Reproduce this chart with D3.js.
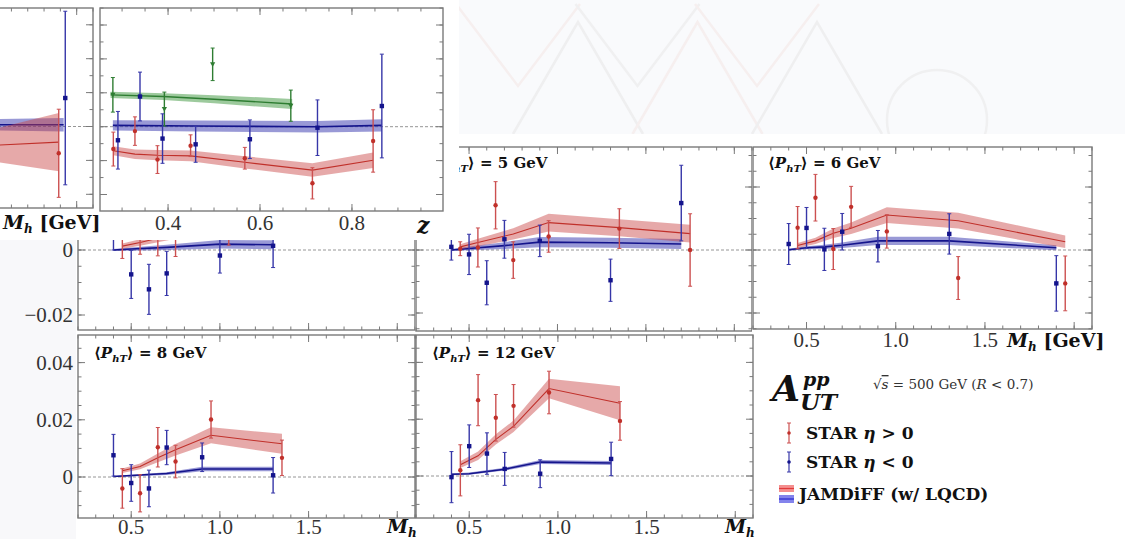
<!DOCTYPE html>
<html><head><meta charset="utf-8">
<script src="https://cdn.jsdelivr.net/npm/d3@7"></script>
<style>body{margin:0;background:#fff;} svg{display:block}</style>
</head><body><svg id="c" width="1125" height="539"></svg>
<script>
// ---------------- DATA ----------------
// Top-left partial M_h panel (A)
const pA_blueX=[1.93], pA_blueY=[0.0084], pA_blueErr=[0.0256];
const pA_redX=[1.89], pA_redY=[-0.0079], pA_redErr=[0.0130];
const pA_redThX=[1.3,1.89], pA_redThY=[-0.0060,-0.0046], pA_redThErr=[0.0030,0.0086];
const pA_blueThX=[1.3,1.92], pA_blueThY=[0.0005,0.0005], pA_blueThErr=[0.0015,0.0020];
// z-dependence panel (B)
const zGreen=[0.280,0.392,0.497,0.667], greenY=[0.0094,0.0052,0.0184,0.0062], greenErr=[0.0051,0.0050,0.0048,0.0046];
const zGreenTh=[0.275,0.39,0.50,0.67], greenThY=[0.0094,0.0089,0.0081,0.0067], greenThErr=[0.0009,0.0010,0.0012,0.0015];
const zBlue=[0.291,0.339,0.388,0.460,0.578,0.725,0.865], zBlueY=[-0.0040,0.0089,-0.0035,-0.0052,-0.0037,-0.0003,0.0061], zBlueErr=[0.0085,0.0072,0.0073,0.0053,0.0057,0.0082,0.0153];
const zBlueTh=[0.28,0.46,0.725,0.865], zBlueThY=[0.0004,0.0002,0.0000,0.0004], zBlueThErr=[0.0015,0.0016,0.0017,0.0018];
const zRed=[0.281,0.328,0.377,0.449,0.567,0.714,0.846], zRedY=[-0.0066,-0.0013,-0.0097,-0.0056,-0.0093,-0.0167,-0.0042], zRedErr=[0.0050,0.0042,0.0041,0.0032,0.0032,0.0046,0.0092];
const zRedTh=[0.281,0.328,0.377,0.449,0.567,0.714,0.846], zRedThY=[-0.0071,-0.0081,-0.0084,-0.0086,-0.0105,-0.0128,-0.0099], zRedThErr=[0.0013,0.0014,0.0015,0.0016,0.0018,0.0020,0.0023];
// lowest <PhT> panel (title hidden)
const p4_blueX=[0.4,0.5,0.6,0.7,1.0,1.3], p4_blueY=[0.0060,-0.0075,-0.0121,-0.0072,-0.0017,0.0013], p4_blueErr=[0.0060,0.0074,0.0077,0.0068,0.0054,0.0067];
const p4_redX=[0.45,0.55,0.65,0.75,1.05,1.35], p4_redY=[0.0040,0.0060,0.0050,0.0040,0.0070,0.0120], p4_redErr=[0.0066,0.0073,0.0068,0.0060,0.0055,0.0060];
const p4_redThX=[0.45,0.55,0.65,0.75,1.05,1.35], p4_redThY=[0.0012,0.0023,0.0036,0.0050,0.0090,0.0080], p4_redThErr=[0.0008,0.0010,0.0012,0.0015,0.0025,0.0030];
const p4_blueThX=[0.4,0.5,0.7,1.0,1.3], p4_blueThY=[0.0000,0.0003,0.0008,0.0018,0.0016], p4_blueThErr=[0.0003,0.0005,0.0008,0.0013,0.0014];
// <PhT> = 5 GeV
const p5_blueX=[0.4,0.5,0.6,0.7,0.9,1.3,1.7], p5_blueY=[0.0010,-0.0014,-0.0104,0.0034,0.0029,-0.0096,0.0149], p5_blueErr=[0.0042,0.0064,0.0070,0.0060,0.0050,0.0067,0.0120];
const p5_redX=[0.45,0.55,0.65,0.75,0.95,1.35,1.75], p5_redY=[0.0004,0.0008,0.0142,-0.0032,0.0043,0.0068,0.0000], p5_redErr=[0.0022,0.0062,0.0075,0.0058,0.0050,0.0063,0.0115];
const p5_redThX=[0.45,0.55,0.75,0.95,1.35,1.75], p5_redThY=[0.0010,0.0024,0.0051,0.0087,0.0071,0.0052], p5_redThErr=[0.0008,0.0012,0.0018,0.0028,0.0027,0.0028];
const p5_blueThX=[0.4,0.5,0.7,0.9,1.3,1.7], p5_blueThY=[0.0000,0.0005,0.0014,0.0025,0.0023,0.0019], p5_blueThErr=[0.0003,0.0006,0.0011,0.0016,0.0016,0.0016];
// <PhT> = 6 GeV
const p6_blueX=[0.4,0.5,0.6,0.7,0.9,1.3,1.9], p6_blueY=[0.0019,0.0070,0.0002,0.0058,0.0012,0.0051,-0.0106], p6_blueErr=[0.0065,0.0065,0.0067,0.0058,0.0050,0.0064,0.0088];
const p6_redX=[0.45,0.55,0.65,0.75,0.95,1.35,1.95], p6_redY=[0.0071,0.0166,0.0003,0.0137,0.0059,-0.0089,-0.0106], p6_redErr=[0.0067,0.0074,0.0065,0.0065,0.0053,0.0068,0.0087];
const p6_redThX=[0.45,0.55,0.65,0.75,0.95,1.35,1.95], p6_redThY=[0.0014,0.0029,0.0053,0.0069,0.0111,0.0093,0.0026], p6_redThErr=[0.0008,0.0010,0.0015,0.0018,0.0025,0.0025,0.0020];
const p6_blueThX=[0.4,0.5,0.6,0.7,0.9,1.3,1.9], p6_blueThY=[0.0001,0.0007,0.0010,0.0015,0.0029,0.0029,0.0007], p6_blueThErr=[0.0003,0.0005,0.0007,0.0009,0.0013,0.0013,0.0008];
// <PhT> = 8 GeV
const p8_blueX=[0.4,0.5,0.6,0.7,0.9,1.3], p8_blueY=[0.0076,-0.0021,-0.0040,0.0103,0.0069,0.0006], p8_blueErr=[0.0073,0.0064,0.0064,0.0060,0.0050,0.0062];
const p8_redX=[0.45,0.55,0.65,0.75,0.95,1.35], p8_redY=[-0.0040,-0.0057,0.0104,0.0054,0.0201,0.0067], p8_redErr=[0.0069,0.0065,0.0069,0.0057,0.0065,0.0062];
const p8_redThX=[0.45,0.55,0.65,0.75,0.95,1.35], p8_redThY=[0.0022,0.0037,0.0067,0.0095,0.0146,0.0116], p8_redThErr=[0.0008,0.0010,0.0015,0.0020,0.0028,0.0035];
const p8_blueThX=[0.4,0.5,0.7,0.9,1.3], p8_blueThY=[0.0002,0.0005,0.0012,0.0028,0.0028], p8_blueThErr=[0.0002,0.0003,0.0005,0.0008,0.0008];
// <PhT> = 12 GeV
const p12_blueX=[0.4,0.5,0.6,0.7,0.9,1.3], p12_blueY=[-0.0004,0.0105,0.0079,0.0025,0.0008,0.0060], p12_blueErr=[0.0090,0.0075,0.0073,0.0058,0.0049,0.0059];
const p12_redX=[0.45,0.55,0.65,0.75,0.95,1.35], p12_redY=[0.0020,0.0267,0.0205,0.0247,0.0294,0.0194], p12_redErr=[0.0090,0.0090,0.0082,0.0075,0.0075,0.0068];
const p12_redThX=[0.45,0.55,0.65,0.75,0.95,1.35], p12_redThY=[0.0040,0.0071,0.0129,0.0175,0.0308,0.0256], p12_redThErr=[0.0012,0.0015,0.0018,0.0020,0.0034,0.0060];
const p12_blueThX=[0.4,0.5,0.7,0.9,1.3], p12_blueThY=[0.0006,0.0008,0.0024,0.0049,0.0046], p12_blueThErr=[0.0003,0.0004,0.0005,0.0007,0.0007];

const mhTickLabels=["0.5","1.0","1.5"];
const zTickLabels=["0.4","0.6","0.8"];
const ptLabels=["5","6","8","12"];

// ---------------- DRAW ----------------
const FONT="'Liberation Serif','DejaVu Serif',serif";
const BFONT="'DejaVu Serif','Liberation Serif',serif";
const svg=d3.select('#c');
const RED="#c0302a", REDBAR="#cc5050", REDFILL="#c84040";
const BLUE="#14148c", BLUEBAR="#3636a8", BLUEFILL="#4646b4";
const GREEN="#2e7d32", GREENFILL="#3c963c";
const FRAME="#7a7a7a";

// backgrounds
svg.append('rect').attr('width',1125).attr('height',539).attr('fill','#fff');
svg.append('rect').attr('x',459).attr('y',0).attr('width',666).attr('height',134).attr('fill','#f9fafc');
svg.append('rect').attr('x',0).attr('y',238).attr('width',76).attr('height',301).attr('fill','#f8f8fa');
// decorative zigzags (slide background)
const deco=svg.append('g').attr('fill','none').attr('stroke-width',2.5);
for(let i=0;i<3;i++){
  const cx=518+i*119.5;
  deco.append('path').attr('d',`M${cx-62},4 L${cx},86 L${cx+62},4`).attr('stroke',i%2?'#f0f0f1':'#f6efef');
  deco.append('path').attr('d',`M${cx-5},134 L${cx+60},22 L${cx+125},134`).attr('stroke',i%2?'#f6efef':'#efeff0');
}
deco.append('circle').attr('cx',937).attr('cy',120).attr('r',50).attr('stroke','#f0f0f1');

let clipId=0;
function ser(xs,ys,es){return xs.map((v,i)=>({x:v,y:ys[i],e:es[i]}));}

function panel(c){
  const g=svg.append('g');
  if(c.bg) g.append('rect').attr('x',c.bg[0]).attr('y',c.bg[1]).attr('width',c.bg[2]).attr('height',c.bg[3]).attr('fill','#fff');
  const x=d3.scaleLinear().domain(c.xd).range([c.x0,c.x1]);
  const y=d3.scaleLinear().domain([(c.zero-c.y1)/c.ppu*0.01,(c.zero-c.y0)/c.ppu*0.01]).range([c.y1,c.y0]);
  const id='cl'+(clipId++);
  g.append('clipPath').attr('id',id).append('rect').attr('x',c.x0).attr('y',c.y0).attr('width',c.x1-c.x0).attr('height',c.y1-c.y0);
  const d=g.append('g').attr('clip-path',`url(#${id})`);
  d.append('line').attr('x1',c.x0).attr('x2',c.x1).attr('y1',y(0)).attr('y2',y(0))
    .attr('stroke','#8a8a8a').attr('stroke-width',0.9).attr('stroke-dasharray','3,2');
  (c.bands||[]).forEach(b=>{
    d.append('path').datum(b.data).attr('fill',b.fill).attr('fill-opacity',b.op)
      .attr('d',d3.area().x(p=>x(p.x)).y0(p=>y(p.y-p.e)).y1(p=>y(p.y+p.e)));
    d.append('path').datum(b.data).attr('fill','none').attr('stroke',b.line).attr('stroke-width',b.lw)
      .attr('d',d3.line().x(p=>x(p.x)).y(p=>y(p.y)));
  });
  (c.pts||[]).forEach(s=>{
    s.data.forEach(p=>{
      const px=x(p.x);
      d.append('line').attr('x1',px).attr('x2',px).attr('y1',y(p.y-p.e)).attr('y2',y(p.y+p.e)).attr('stroke',s.bar).attr('stroke-width',1.4);
      [p.y-p.e,p.y+p.e].forEach(v=>d.append('line').attr('x1',px-2).attr('x2',px+2).attr('y1',y(v)).attr('y2',y(v)).attr('stroke',s.bar).attr('stroke-width',1));
      if(s.shape==='sq') d.append('rect').attr('x',px-2.2).attr('y',y(p.y)-2.2).attr('width',4.4).attr('height',4.4).attr('fill',s.col);
      else if(s.shape==='tri') d.append('path').attr('d',`M${px-2.6},${y(p.y)-2} L${px+2.6},${y(p.y)-2} L${px},${y(p.y)+2.6}Z`).attr('fill',s.col);
      else d.append('circle').attr('cx',px).attr('cy',y(p.y)).attr('r',2.2).attr('fill',s.col);
    });
  });
  g.append('rect').attr('x',c.x0).attr('y',c.y0).attr('width',c.x1-c.x0).attr('height',c.y1-c.y0)
    .attr('fill','none').attr('stroke',FRAME).attr('stroke-width',1.4);
  const tg=g.append('g').attr('stroke',FRAME).attr('stroke-width',1);
  function ticks(step,len,axis){
    const sc=axis==='x'?x:y; const dm=sc.domain();
    const lo=Math.min(dm[0],dm[1]),hi=Math.max(dm[0],dm[1]);
    for(let i=Math.ceil(lo/step-1e-9);i<=Math.floor(hi/step+1e-9);i++){
      const p=sc(i*step);
      if(axis==='x'){
        tg.append('line').attr('x1',p).attr('x2',p).attr('y1',c.y1).attr('y2',c.y1-len);
        tg.append('line').attr('x1',p).attr('x2',p).attr('y1',c.y0).attr('y2',c.y0+len);
      } else {
        tg.append('line').attr('y1',p).attr('y2',p).attr('x1',c.x0).attr('x2',c.x0+len);
        tg.append('line').attr('y1',p).attr('y2',p).attr('x1',c.x1).attr('x2',c.x1-len);
      }
    }
  }
  ticks(c.xMinor,3.5,'x'); ticks(c.xMajor,7,'x');
  ticks(c.yMinor,3.5,'y'); ticks(c.yMajor,7,'y');
  (c.xLabels||[]).forEach(t=>{
    g.append('text').attr('x',x(+t)).attr('y',c.xLabY).attr('text-anchor','middle')
      .attr('font-family',FONT).attr('font-size',21).attr('fill','#333').text(t);
  });
  (c.yLabels||[]).forEach(v=>{
    g.append('text').attr('x',c.x0-5).attr('y',y(v)+7).attr('text-anchor','end')
      .attr('font-family',FONT).attr('font-size',21).attr('fill','#333')
      .text(v===0?'0':d3.format('.2f')(v).replace('-','\u2212'));
  });
  if(c.title){
    const t=g.append('text').attr('x',c.title[0]).attr('y',c.title[1]).attr('font-family',BFONT)
      .attr('font-size',15).attr('font-weight','bold').attr('fill','#111');
    t.append('tspan').text('\u27E8');
    t.append('tspan').attr('font-style','italic').text('P');
    t.append('tspan').attr('font-style','italic').attr('font-size',10).attr('dy',4).text('hT');
    t.append('tspan').attr('dy',-4).text('\u27E9 = '+c.title[2]+' GeV');
  }
  return {x,y,g};
}
function mhLabel(xp,yp,geV){
  const t=svg.append('text').attr('x',xp).attr('y',yp).attr('font-family',BFONT).attr('font-size',19)
    .attr('font-weight','bold').attr('fill','#111');
  t.append('tspan').attr('font-style','italic').text('M');
  t.append('tspan').attr('font-style','italic').attr('font-size',12).attr('dy',4).text('h');
  if(geV) t.append('tspan').attr('dy',-4).text(' [GeV]');
}
function std(redTh,blueTh,red,blue){
  return {
    bands:[{data:blueTh,fill:BLUEFILL,op:0.55,line:BLUE,lw:1.6},{data:redTh,fill:REDFILL,op:0.45,line:RED,lw:1.1}],
    pts:[{data:red,col:RED,bar:REDBAR,shape:'c'},{data:blue,col:BLUE,bar:BLUEBAR,shape:'sq'}]
  };
}
const mhBase={xd:[0.2,2.1],xMinor:0.1,xMajor:0.5,yMinor:0.005,yMajor:0.02};

// Row 1
panel(Object.assign({},mhBase,{x0:78,x1:415,y0:150,y1:330,zero:250,ppu:32.5,yLabels:[0,-0.02],bg:[76,140,340,193]},
  std(ser(p4_redThX,p4_redThY,p4_redThErr),ser(p4_blueThX,p4_blueThY,p4_blueThErr),ser(p4_redX,p4_redY,p4_redErr),ser(p4_blueX,p4_blueY,p4_blueErr))));
panel(Object.assign({},mhBase,{x0:416,x1:752,y0:147,y1:331,zero:250,ppu:31.5,title:[435,168,ptLabels[0]],bg:[415,134,340,199]},
  std(ser(p5_redThX,p5_redThY,p5_redThErr),ser(p5_blueThX,p5_blueThY,p5_blueThErr),ser(p5_redX,p5_redY,p5_redErr),ser(p5_blueX,p5_blueY,p5_blueErr))));
panel(Object.assign({},mhBase,{x0:753,x1:1092,y0:147,y1:329,zero:250,ppu:31.5,title:[768,168,ptLabels[1]],xLabels:mhTickLabels,xLabY:347,bg:[752,134,373,218]},
  std(ser(p6_redThX,p6_redThY,p6_redThErr),ser(p6_blueThX,p6_blueThY,p6_blueThErr),ser(p6_redX,p6_redY,p6_redErr),ser(p6_blueX,p6_blueY,p6_blueErr))));
mhLabel(1007,347,true);
// Row 2
panel(Object.assign({},mhBase,{x0:78,x1:415,y0:335,y1:518,zero:477,ppu:28.6,yLabels:[0,0.02,0.04],title:[94,358,ptLabels[2]],xLabels:mhTickLabels,xLabY:534,bg:[76,333,340,206]},
  std(ser(p8_redThX,p8_redThY,p8_redThErr),ser(p8_blueThX,p8_blueThY,p8_blueThErr),ser(p8_redX,p8_redY,p8_redErr),ser(p8_blueX,p8_blueY,p8_blueErr))));
panel(Object.assign({},mhBase,{x0:416,x1:753,y0:335,y1:518,zero:476,ppu:28.4,title:[432,358,ptLabels[3]],xLabels:mhTickLabels,xLabY:534,bg:[416,333,339,206]},
  std(ser(p12_redThX,p12_redThY,p12_redThErr),ser(p12_blueThX,p12_blueThY,p12_blueThErr),ser(p12_redX,p12_redY,p12_redErr),ser(p12_blueX,p12_blueY,p12_blueErr))));
mhLabel(387,533,false);
mhLabel(725,533,false);

// Top-left overlay image (panels A and B)
svg.append('rect').attr('x',0).attr('y',0).attr('width',459).attr('height',240).attr('fill','#fff');
panel(Object.assign({},mhBase,{x0:-217,x1:93,y0:8,y1:208,zero:126.5,ppu:33.9,yMinor:0.005,yMajor:0.01},
  std(ser(pA_redThX,pA_redThY,pA_redThErr),ser(pA_blueThX,pA_blueThY,pA_blueThErr),ser(pA_redX,pA_redY,pA_redErr),ser(pA_blueX,pA_blueY,pA_blueErr))));
mhLabel(3,229,true);
panel({xd:[0.252,0.998],x0:100,x1:443,y0:8,y1:211,zero:126.7,ppu:33.9,xMinor:0.05,xMajor:0.2,yMinor:0.005,yMajor:0.01,
  xLabels:zTickLabels,xLabY:230,
  bands:[{data:ser(zBlueTh,zBlueThY,zBlueThErr),fill:BLUEFILL,op:0.55,line:BLUE,lw:1.6},
         {data:ser(zRedTh,zRedThY,zRedThErr),fill:REDFILL,op:0.45,line:RED,lw:1.1},
         {data:ser(zGreenTh,greenThY,greenThErr),fill:GREENFILL,op:0.5,line:GREEN,lw:1.4}],
  pts:[{data:ser(zRed,zRedY,zRedErr),col:RED,bar:REDBAR,shape:'c'},
       {data:ser(zGreen,greenY,greenErr),col:GREEN,bar:GREEN,shape:'tri'},
       {data:ser(zBlue,zBlueY,zBlueErr),col:BLUE,bar:BLUEBAR,shape:'sq'}]});
svg.append('text').attr('x',417).attr('y',233).attr('font-family',BFONT).attr('font-size',22)
  .attr('font-weight','bold').attr('font-style','italic').attr('fill','#111').text('z');

// Legend
const L=svg.append('g').attr('font-family',BFONT).attr('fill','#111');
L.append('text').attr('x',772).attr('y',401).attr('font-size',36).attr('font-weight','bold').attr('font-style','italic').text('A');
L.append('text').attr('x',803).attr('y',386).attr('font-size',19).attr('font-weight','bold').attr('font-style','italic').text('pp');
L.append('text').attr('x',800).attr('y',410).attr('font-size',23).attr('font-weight','bold').attr('font-style','italic').text('UT');
const sq=L.append('text').attr('x',873).attr('y',389).attr('font-size',13.5).attr('fill','#333');
sq.append('tspan').text('\u221A');
sq.append('tspan').attr('font-style','italic').attr('text-decoration','overline').text('s');
sq.append('tspan').text(' = 500 GeV (');
sq.append('tspan').attr('font-style','italic').text('R');
sq.append('tspan').text(' < 0.7)');
[[RED,REDBAR,433,'>'],[BLUE,BLUEBAR,462,'<']].forEach(([c,b,yy,op])=>{
  L.append('line').attr('x1',789).attr('x2',789).attr('y1',yy-10).attr('y2',yy+10).attr('stroke',b).attr('stroke-width',1.2);
  [yy-10,yy+10].forEach(v=>L.append('line').attr('x1',787).attr('x2',791).attr('y1',v).attr('y2',v).attr('stroke',b));
  L.append('circle').attr('cx',789).attr('cy',yy).attr('r',1.8).attr('fill',c);
  const t=L.append('text').attr('x',806).attr('y',yy+6).attr('font-size',17).attr('font-weight','bold');
  t.append('tspan').text('STAR ');
  t.append('tspan').attr('font-style','italic').text('\u03B7');
  t.append('tspan').text(' '+op+' 0');
});
L.append('rect').attr('x',779).attr('y',485).attr('width',15).attr('height',7).attr('fill','#f06a6a').attr('opacity',0.75);
L.append('line').attr('x1',779).attr('x2',794).attr('y1',488.5).attr('y2',488.5).attr('stroke','#e03a3a').attr('stroke-width',1.2);
L.append('rect').attr('x',779).attr('y',495).attr('width',15).attr('height',8).attr('fill','#5a5ae6').attr('opacity',0.75);
L.append('line').attr('x1',779).attr('x2',794).attr('y1',499).attr('y2',499).attr('stroke','#2a2ad0').attr('stroke-width',1.2);
L.append('text').attr('x',799).attr('y',500).attr('font-size',17).attr('font-weight','bold').text('JAMDiFF (w/ LQCD)');
</script></body></html>
